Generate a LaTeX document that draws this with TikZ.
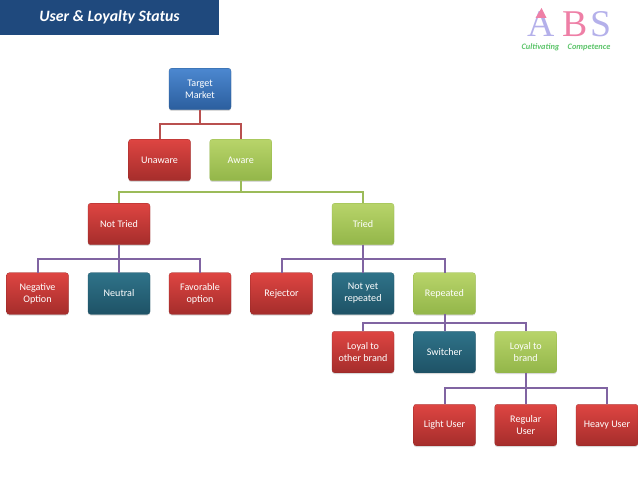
\documentclass[tikz,border=0pt]{standalone}
\usepackage{fontspec}
\setmainfont{Carlito}
\newfontfamily\logofont{Liberation Serif}
\usetikzlibrary{calc, positioning, shadows}

\definecolor{redtop}{HTML}{DE4542}
\definecolor{redbot}{HTML}{A52D2B}
\definecolor{bluetop}{HTML}{4C88D0}
\definecolor{bluebot}{HTML}{2B5E9E}
\definecolor{greentop}{HTML}{B8D46A}
\definecolor{greenbot}{HTML}{93B649}
\definecolor{tealtop}{HTML}{2F7389}
\definecolor{tealbot}{HTML}{1E5266}
\definecolor{banner}{HTML}{1F497D}
\definecolor{redline}{HTML}{B9504F}
\definecolor{greenline}{HTML}{9BBB59}
\definecolor{purpleline}{HTML}{8064A2}
\definecolor{logolav}{HTML}{B4B0EA}
\definecolor{logopink}{HTML}{EE7FA6}
\definecolor{logogreen}{HTML}{5CC46A}

\begin{document}
\begin{tikzpicture}[
        box/.style={rectangle, rounded corners=3pt, text=white,
                    minimum width=2.48cm, minimum height=1.66cm,
                    align=center, font=\fontsize{11.5}{13.5}\selectfont, inner sep=0pt,
                    drop shadow={shadow xshift=0cm, shadow yshift=-0.05cm, opacity=0.3}},
        redbox/.style={box, top color=redtop, bottom color=redbot, draw=redbot!90!black, very thin},
        bluebox/.style={box, top color=bluetop, bottom color=bluebot, draw=bluebot!90!black, very thin},
        greenbox/.style={box, top color=greentop, bottom color=greenbot, draw=greenbot, very thin},
        tealbox/.style={box, top color=tealtop, bottom color=tealbot, draw=tealbot, very thin},
        link/.style={line width=0.08cm},
        logoletter/.style={font=\fontsize{43}{43}\selectfont\logofont, inner sep=0pt},
    ]
    \useasboundingbox (0, 0) rectangle (25.52, 19.16);

    % ====== title banner ======
    \node[fill=banner, text=white, minimum width=8.76cm, minimum height=1.4cm, inner sep=0pt,
          font=\fontsize{18}{20}\selectfont\bfseries\itshape] (title) at (4.38, 18.46) {User \& Loyalty Status};

    % ====== logo ======
    \node[logoletter, text=logolav] (logoa) at (21.64, 18.2) {A};
    \fill[logopink] (21.66, 18.84) -- (21.42, 18.44) -- (21.86, 18.44) -- cycle;
    \node[logoletter, text=logopink] (logob) at (23.02, 18.2) {B};
    \node[logoletter, text=logolav] (logos) at (24.02, 18.2) {S};
    \node[font=\fontsize{9.5}{10}\selectfont\bfseries\itshape, text=logogreen, inner sep=0pt] (logotag) at (22.64, 17.26) {Cultivating\quad Competence};

    % ====== boxes ======
    \node[bluebox] (target) at (8.0, 15.6) {Target\\Market};

    \node[redbox] (unaware) at (6.38, 12.76) {Unaware};
    \node[greenbox] (aware) at (9.63, 12.76) {Aware};

    \node[redbox] (nottried) at (4.76, 10.2) {Not Tried};
    \node[greenbox] (tried) at (14.52, 10.2) {Tried};

    \node[redbox] (negative) at (1.5, 7.42) {Negative\\Option};
    \node[tealbox] (neutral) at (4.76, 7.42) {Neutral};
    \node[redbox] (favorable) at (8.0, 7.42) {Favorable\\option};
    \node[redbox] (rejector) at (11.26, 7.42) {Rejector};
    \node[tealbox] (notyet) at (14.52, 7.42) {Not yet\\repeated};
    \node[greenbox] (repeated) at (17.78, 7.42) {Repeated};

    \node[redbox] (other) at (14.52, 5.08) {Loyal to\\other brand};
    \node[tealbox] (switcher) at (17.78, 5.08) {Switcher};
    \node[greenbox] (loyal) at (21.03, 5.08) {Loyal to\\brand};

    \node[redbox] (light) at (17.78, 2.16) {Light User};
    \node[redbox] (regular) at (21.03, 2.16) {Regular\\User};
    \node[redbox] (heavy) at (24.28, 2.16) {Heavy User};

    % ====== links ======
    \foreach \kid in {unaware, aware}
        \draw[link, redline] (target.south) -- ++(0, -0.57) -| (\kid.north);
    \foreach \kid in {nottried, tried}
        \draw[link, greenline] (aware.south) -- ++(0, -0.44) -| (\kid.north);
    \foreach \kid in {negative, neutral, favorable}
        \draw[link, purpleline] (nottried.south) -- ++(0, -0.55) -| (\kid.north);
    \foreach \kid in {rejector, notyet, repeated}
        \draw[link, purpleline] (tried.south) -- ++(0, -0.55) -| (\kid.north);
    \foreach \kid in {other, switcher, loyal}
        \draw[link, purpleline] (repeated.south) -- ++(0, -0.33) -| (\kid.north);
    \foreach \kid in {light, regular, heavy}
        \draw[link, purpleline] (loyal.south) -- ++(0, -0.6) -| (\kid.north);

\end{tikzpicture}
\end{document}
